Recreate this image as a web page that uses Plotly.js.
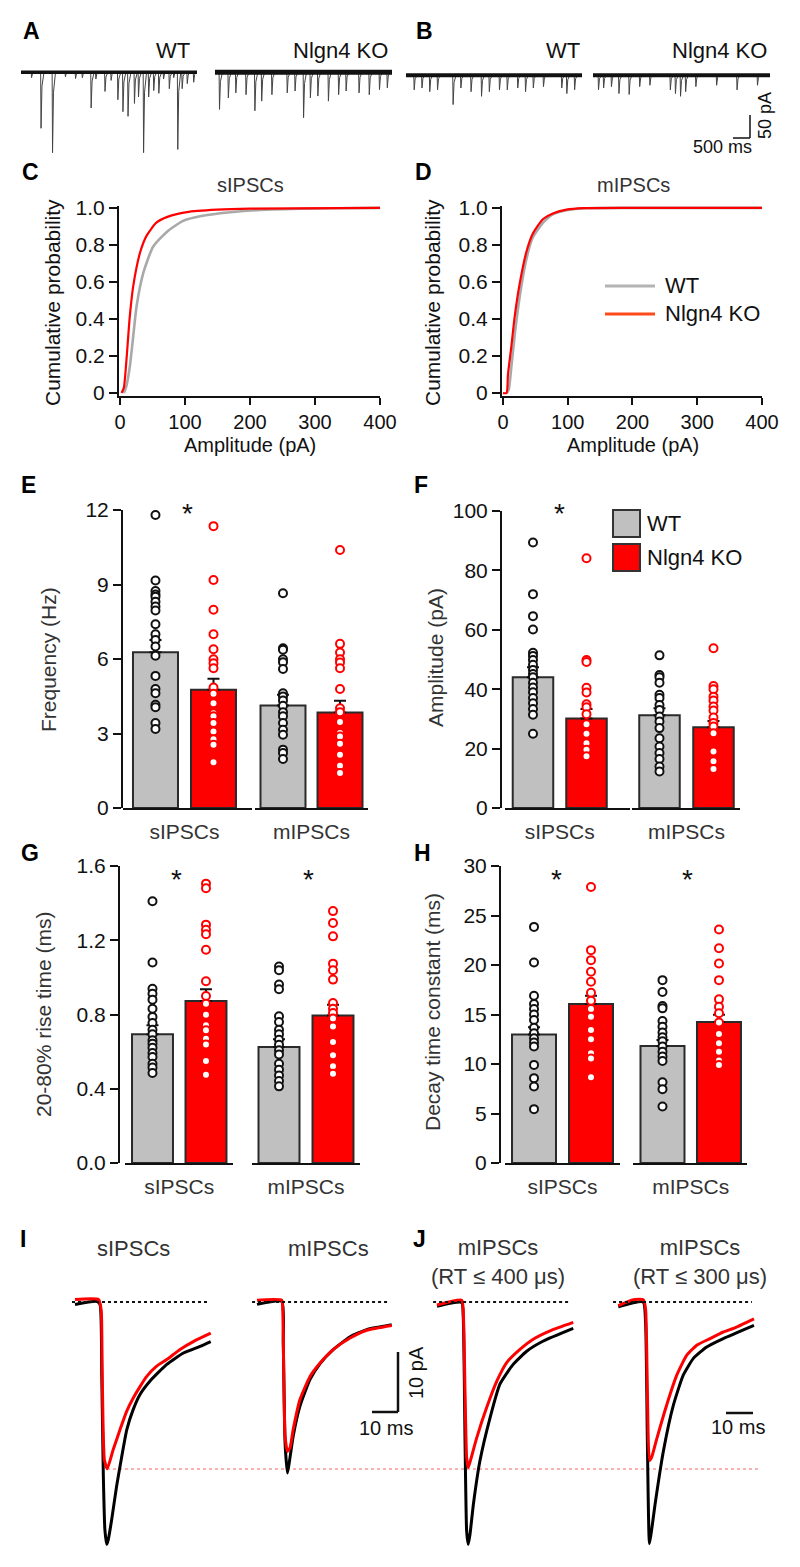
<!DOCTYPE html>
<html><head><meta charset="utf-8">
<script src="https://cdn.plot.ly/plotly-3.0.1.min.js"></script>
<style>html,body{margin:0;padding:0;background:#fff}#chart{width:800px;height:1567px}</style>
</head><body><div id="chart"></div><script>
// ---------- DATA ----------
// A/B example recordings: event times (s) and amplitudes (pA)
const traceDur = 5.2;
const aWT_t   = [0.30,0.58,0.92,1.30,1.60,1.80,2.06,2.20,2.47,2.65,2.85,3.00,3.15,3.34,3.46,3.61,3.76,3.91,4.06,4.20,4.37,4.50,4.62,4.75,4.90,5.09];
const aWT_amp = [12,122,175,10,14,12,78,15,42,18,60,86,96,68,54,175,54,40,46,15,36,12,168,36,25,22];
const aKO_t   = [0.12,0.38,0.60,0.90,1.16,1.36,1.66,2.11,2.34,2.59,2.79,3.01,3.32,3.62,3.84,4.22,4.52,4.82,5.05];
const aKO_amp = [81,56,45,49,84,63,49,45,41,99,56,52,63,49,41,45,49,38,34];
const bWT_t   = [0.23,0.46,0.69,0.92,1.38,1.61,1.91,2.22,2.45,2.75,2.98,3.29,3.52,3.75,4.05,4.59,4.74,4.97];
const bWT_amp = [32,28,36,32,64,28,36,46,36,32,32,28,36,28,25,28,40,32];
const bKO_t   = [0.15,0.30,0.53,0.75,1.05,1.36,1.66,2.26,2.41,2.56,2.71,3.01,3.62,4.22,4.82];
const bKO_amp = [32,28,25,40,42,25,22,32,40,46,36,25,22,32,22];

// C/D cumulative distributions (amplitude pA, cumulative probability)
const cWT_amp = [6,10,15,20.5,25.6,36,51,72,97,123,174,226,328,400];
const cWT_p   = [0,0.04,0.14,0.31,0.47,0.65,0.79,0.87,0.93,0.955,0.978,0.99,0.998,1.0];
const cKO_amp = [2.5,6,10,15,20.5,31,41,56,72,103,149,200,400];
const cKO_p   = [0,0.03,0.18,0.41,0.58,0.76,0.85,0.92,0.95,0.977,0.99,0.996,1.0];
const dWT_amp = [6,9,12.9,18,25.8,36,46,62,77,98,129,200,400];
const dWT_p   = [0,0.02,0.14,0.31,0.52,0.72,0.84,0.92,0.965,0.987,0.998,1.0,1.0];
const dKO_amp = [0,5.5,7.7,12.9,18,25.8,36,46,62,77,98,124,200,400];
const dKO_p   = [0,0,0.10,0.25,0.41,0.59,0.76,0.86,0.94,0.97,0.99,0.998,1.0,1.0];
const cdfTicksX = [0,100,200,300,400];
const cdfTicksY = [0,0.2,0.4,0.6,0.8,1.0];
const cdfTickText = ['0','0.2','0.4','0.6','0.8','1.0'];

const groups = ['sIPSCs','mIPSCs'];
const conds = ['WT','Nlgn4 KO'];

// E frequency (Hz)
const freqMean = {sWT:6.27, sKO:4.76, mWT:4.13, mKO:3.85};
const freqSem  = {sWT:0.50, sKO:0.44, mWT:0.43, mKO:0.47};
const freq_sWT = [11.8,9.16,8.74,8.6,8.51,8.31,8.11,7.95,7.4,7.0,6.77,6.5,6.13,5.32,4.79,4.62,4.16,4.06,3.42,3.18];
const freq_sKO = [11.35,9.18,7.98,7.0,6.39,5.99,5.83,5.63,4.85,4.6,4.22,3.82,3.69,3.42,3.08,2.77,2.55,1.84];
const freq_mWT = [8.65,6.43,6.37,5.99,5.87,5.6,4.62,4.49,4.33,4.12,3.86,3.69,3.42,3.15,2.95,2.35,2.21,1.97];
const freq_mKO = [10.39,6.61,6.26,5.99,5.86,5.63,4.79,4.02,3.86,3.46,3.02,2.88,2.59,2.14,1.7,1.41];
// F amplitude (pA)
const ampMean = {sWT:44.0, sKO:30.1, mWT:31.2, mKO:27.2};
const ampSem  = {sWT:3.4, sKO:3.2, mWT:2.4, mKO:2.1};
const amp_sWT = [89.4,72.0,64.6,60.1,52.3,51.2,49.8,48.2,46.5,45.1,44.0,42.2,40.6,39.0,37.0,35.3,33.3,31.4,25.0];
const amp_sKO = [84.1,49.8,49.2,40.5,38.9,34.9,33.9,31.6,28.2,25.0,21.8,19.6,17.4];
const amp_mWT = [51.4,44.8,44.0,42.2,38.1,37.0,34.7,33.0,30.8,29.1,26.9,23.5,20.7,18.5,16.5,14.0,12.3];
const amp_mKO = [53.8,41.1,40.0,37.5,36.2,34.2,32.8,30.5,28.6,27.4,25.2,19.0,15.7,13.1];
// G 20-80% rise time (ms)
const riseMean = {sWT:0.693, sKO:0.873, mWT:0.625, mKO:0.795};
const riseSem  = {sWT:0.049, sKO:0.063, mWT:0.041, mKO:0.058};
const rise_sWT = [1.41,1.08,0.939,0.912,0.88,0.831,0.787,0.754,0.718,0.693,0.661,0.643,0.621,0.593,0.571,0.535,0.514,0.485];
const rise_sKO = [1.505,1.48,1.284,1.257,1.232,1.149,0.979,0.9,0.858,0.799,0.742,0.715,0.67,0.639,0.549,0.476];
const rise_mWT = [1.059,1.038,0.961,0.936,0.79,0.76,0.718,0.693,0.664,0.637,0.607,0.585,0.535,0.503,0.472,0.442,0.413];
const rise_mKO = [1.357,1.293,1.221,1.074,1.038,0.988,0.862,0.831,0.808,0.778,0.736,0.652,0.58,0.521,0.481];
// H decay time constant (ms)
const decMean = {sWT:12.97, sKO:16.06, mWT:11.82, mKO:14.24};
const decSem  = {sWT:0.73, sKO:0.84, mWT:0.61, mKO:0.74};
const dec_sWT = [23.85,20.26,16.9,16.06,15.55,15.0,14.44,13.67,13.1,12.6,12.16,11.76,9.91,8.57,7.73,5.44];
const dec_sKO = [27.88,21.5,20.49,19.31,18.31,17.2,16.39,15.55,14.78,13.44,12.5,11.08,10.55,8.67];
const dec_mWT = [18.47,17.27,15.85,15.62,14.34,13.77,13.17,12.7,12.29,11.76,11.25,10.75,10.31,8.16,7.46,5.71];
const dec_mKO = [23.58,21.7,20.15,18.47,16.53,15.79,15.12,14.18,13.03,12.09,11.25,10.35,9.91];

// I/J averaged traces: time (ms), current (pA)
const iS_WT_t = [0,8.3,9.6,10.3,10.9,11.5,12.2,12.8,14.1,16.0,18.0,19.9,22.4,25.0,28.8,35.3,41.7,48.1,52.2];
const iS_WT_y = [-0.4,0.1,-0.4,-12.4,-29,-38,-40.4,-39.6,-36.3,-30.7,-25.7,-21.3,-17.9,-15.4,-13.2,-10.4,-8.5,-7.4,-6.6];
const iS_KO_t = [0,9.1,10.1,10.4,10.8,11.3,12.4,14.7,17.3,19.9,22.4,25.0,27.6,31.4,35.3,40.4,45.5,52.2];
const iS_KO_y = [0.4,0.4,-1.5,-9.6,-20.7,-26.3,-27.8,-24.6,-21.3,-18.2,-16.0,-14.1,-12.4,-10.7,-9.6,-7.9,-6.6,-5.2];
const iM_WT_t = [0,9.5,10.1,10.8,11.7,12.4,13.9,16.5,20.4,24.2,29.4,35.8,42.2,51.8];
const iM_WT_y = [-0.4,0.1,-6.8,-23.5,-28.5,-26.8,-22.4,-17.4,-12.9,-10.3,-7.9,-5.8,-4.6,-3.8];
const iM_KO_t = [0,9.5,9.9,10.3,10.8,11.7,12.7,13.9,16.5,20.4,24.2,29.4,35.8,42.2,51.8];
const iM_KO_y = [0.3,0.3,-1.3,-12.4,-22.4,-24.9,-24.3,-21.3,-16.3,-12.4,-10.2,-7.9,-6.0,-4.7,-3.9];
const j4_WT_t = [0,9.5,10.1,10.8,11.4,12.0,12.7,14.0,16.5,20.4,24.2,29.3,34.5,40.9,52.4];
const j4_WT_y = [-0.7,-0.1,-2.6,-23.7,-38.2,-40.4,-38.7,-33.7,-26.5,-19.3,-13.7,-10.4,-8.2,-6.5,-4.4];
const j4_KO_t = [0,9.5,10.1,10.8,11.4,12.0,13.0,15.3,19.1,23.0,26.8,31.9,37.0,43.5,52.4];
const j4_KO_y = [-0.5,0.3,-1.5,-15.4,-25.9,-27.6,-26.2,-22.6,-17.6,-13.2,-10.1,-7.9,-6.2,-4.8,-3.4];
const j3_WT_t = [0.1,9.7,10.6,11.3,12.1,13.0,14.2,17.4,21.3,25.1,29.0,34.1,40.5,52.3];
const j3_WT_y = [-0.8,0,-3.3,-23.3,-40.3,-37.8,-33.9,-25,-17.2,-12.2,-9.4,-7.5,-6.1,-3.9];
const j3_KO_t = [0.1,5.9,9.7,10.6,11.3,12.1,13.0,14.9,18.7,22.6,26.4,30.3,35.4,40.5,44.4,52.3];
const j3_KO_y = [-0.6,0.4,0.4,-1.1,-15,-26.4,-25.8,-22.8,-17.2,-12.2,-8.9,-7.2,-6.1,-5.0,-4.4,-2.8];

// ---------- STYLE / LAYOUT HELPERS ----------
const W=800, H=1567;
const px = x => x/W, py = y => 1 - y/H;
const FONT = 'Liberation Sans, Arial, Helvetica, sans-serif';
const INK = '#111', LBL = '#333';
const C_GRAYBAR = '#C0C0C0', C_RED = '#FF0000', C_GRAYLINE = '#A9A9A9';

const layout = {width:W, height:H, margin:{l:0,r:0,t:0,b:0}, paper_bgcolor:'#fff',
  plot_bgcolor:'rgba(0,0,0,0)', showlegend:false, font:{family:FONT,color:INK},
  annotations:[], shapes:[]};
function setAxes(n, xd, yd, xopt, yopt){
  const s = n===1 ? '' : String(n);
  layout['xaxis'+s] = Object.assign({domain:[px(xd[0]),px(xd[1])], anchor:'y'+s, showgrid:false, zeroline:false, fixedrange:true}, xopt);
  layout['yaxis'+s] = Object.assign({domain:[py(yd[1]),py(yd[0])], anchor:'x'+s, showgrid:false, zeroline:false, fixedrange:true}, yopt);
}
const hid = {visible:false};
const lineAx = {showline:true, linewidth:2, linecolor:INK, ticks:'outside', ticklen:8, tickwidth:2, tickcolor:INK,
  tickfont:{size:21, color:INK, family:FONT}};
function catAx(label, range){
  return {showline:true, linewidth:2, linecolor:INK, ticks:'outside', ticklen:4, tickcolor:'rgba(0,0,0,0)',
    tickvals:[0.5], ticktext:[label], range:range, tickfont:{size:21,color:LBL,family:FONT}};
}
function txt(text, x, y, o){
  return Object.assign({text:text, x:px(x), y:py(y), xref:'paper', yref:'paper', showarrow:false,
    xanchor:'center', yanchor:'middle', font:{size:21, color:INK, family:FONT}}, o||{});
}
function seg(x0,y0,x1,y1,color,width,dash){
  return {type:'line', xref:'paper', yref:'paper', x0:px(x0), y0:py(y0), x1:px(x1), y1:py(y1),
    line:{color:color, width:width, dash:dash||'solid'}};
}

const data = [];

// ---------- A/B ----------
function eventTrace(ts, amps){
  const x=[0], y=[0];
  ts.forEach((t,i)=>{ const a=amps[i]; x.push(t, t+0.012, t+0.04, t+0.1); y.push(0, -a, -a*0.25, 0); });
  x.push(traceDur); y.push(0);
  return {x, y};
}
const abSets = [
  {n:1, t:aWT_t, a:aWT_amp, xd:[21,197], yd:[62,172], bw:3.5},
  {n:2, t:aKO_t, a:aKO_amp, xd:[215,392], yd:[62,172], bw:5},
  {n:3, t:bWT_t, a:bWT_amp, xd:[406,582], yd:[65,175], bw:4},
  {n:4, t:bKO_t, a:bKO_amp, xd:[593,770], yd:[65,175], bw:4}
];
abSets.forEach(s=>{
  const id = s.n===1?'':String(s.n);
  setAxes(s.n, s.xd, s.yd, Object.assign({range:[0,traceDur]},hid), Object.assign({range:[-217,22]},hid));
  const ev = eventTrace(s.t, s.a);
  data.push({type:'scatter', mode:'lines', x:ev.x, y:ev.y, line:{color:'#444', width:1}, xaxis:'x'+id, yaxis:'y'+id, hoverinfo:'skip'});
  data.push({type:'scatter', mode:'lines', x:[0,traceDur], y:[0,0], line:{color:'#111', width:s.bw}, xaxis:'x'+id, yaxis:'y'+id, hoverinfo:'skip'});
});
layout.annotations.push(
  txt('WT',192,50,{xanchor:'right',font:{size:22,color:INK,family:FONT}}),
  txt('Nlgn4 KO',390,50,{xanchor:'right',font:{size:22,color:INK,family:FONT}}),
  txt('WT',582,50,{xanchor:'right',font:{size:22,color:INK,family:FONT}}),
  txt('Nlgn4 KO',769,50,{xanchor:'right',font:{size:22,color:INK,family:FONT}}),
  txt('500 ms',722,147,{font:{size:18,color:INK,family:FONT}}),
  txt('50 pA',765,116,{textangle:-90,font:{size:18,color:INK,family:FONT}})
);
layout.shapes.push(seg(750,115,750,138,INK,1.5), seg(733,138,750,138,INK,1.5));

// ---------- C/D ----------
[[5,[119,380],cWT_amp,cWT_p,cKO_amp,cKO_p,'sIPSCs',250,52],[6,[502,762],dWT_amp,dWT_p,dKO_amp,dKO_p,'mIPSCs',633,432]].forEach(c=>{
  const [n,xd,wx,wy,kx,ky,title,cx,ytx] = c;
  setAxes(n, xd, [206,396],
    Object.assign({}, lineAx, {range:[-1.5,400], tickvals:cdfTicksX, ticklen:7, tickfont:{size:20,color:INK,family:FONT}}),
    Object.assign({}, lineAx, {range:[-0.016,1.01], tickvals:cdfTicksY, ticktext:cdfTickText}));
  data.push({type:'scatter', mode:'lines', x:wx, y:wy, line:{color:C_GRAYLINE, width:2.6, shape:'spline', smoothing:0.6}, xaxis:'x'+n, yaxis:'y'+n});
  data.push({type:'scatter', mode:'lines', x:kx, y:ky, line:{color:C_RED, width:2.2, shape:'spline', smoothing:0.6}, xaxis:'x'+n, yaxis:'y'+n});
  layout.annotations.push(
    txt(title, cx, 185, {font:{size:20,color:LBL,family:FONT}}),
    txt('Amplitude (pA)', cx, 445, {font:{size:20,color:INK,family:FONT}}),
    txt('Cumulative probability', ytx, 303, {textangle:-90})
  );
});
// legend in D
layout.shapes.push(seg(605,286,655,286,'#B4B4B4',3), seg(605,314,655,314,'#FF4A1C',3));
layout.annotations.push(txt('WT',663,286,{xanchor:'left',font:{size:22,color:INK,family:FONT}}),
  txt('Nlgn4 KO',663,314,{xanchor:'left',font:{size:22,color:INK,family:FONT}}));

// ---------- E-H bar panels ----------
function barPanel(nL, nR, yd, yrange, yticks, tickfmt, mean, sem, pts, geomL, geomR, yPos){
  // geom: [domainX0, domainX1, range0, range1, barWidth]
  [[nL,geomL,'s',groups[0]],[nR,geomR,'m',groups[1]]].forEach((g,i)=>{
    const [n,geo,k,label] = g;
    const yopt = i===0
      ? Object.assign({}, lineAx, {range:yrange, tickvals:yticks, tickformat:tickfmt, anchor:'free', position:px(yPos)})
      : Object.assign({range:yrange}, hid);
    setAxes(n, [geo[0],geo[1]], yd, catAx(label,[geo[2],geo[3]]), yopt);
    data.push({type:'bar', x:[0,1], y:[mean[k+'WT'], mean[k+'KO']], width:[geo[4],geo[4]],
      marker:{color:[C_GRAYBAR,C_RED], line:{color:'#2a2a2a', width:2}},
      error_y:{type:'data', symmetric:false, array:[sem[k+'WT'], sem[k+'KO']], arrayminus:[0,0], color:INK, thickness:2, width:6},
      xaxis:'x'+n, yaxis:'y'+n});
    const w = pts[k+'WT'], r = pts[k+'KO'];
    data.push({type:'scatter', mode:'markers', x:w.map(()=>0), y:w, cliponaxis:false,
      marker:{symbol:'circle', size:8, color:'#fff', line:{color:INK, width:2}}, xaxis:'x'+n, yaxis:'y'+n});
    data.push({type:'scatter', mode:'markers', x:r.map(()=>1), y:r, cliponaxis:false,
      marker:{symbol:'circle', size:8, color:'#fff', line:{color:C_RED, width:2}}, xaxis:'x'+n, yaxis:'y'+n});
  });
}
barPanel(7, 8, [510,808], [0,12], [0,3,6,9,12], '', freqMean, freqSem,
  {sWT:freq_sWT, sKO:freq_sKO, mWT:freq_mWT, mKO:freq_mKO},
  [123,252,-0.560,1.664,0.776], [255,368,-0.491,1.491,0.789], 122);
barPanel(9, 10, [511,808], [0,100], [0,20,40,60,80,100], '', ampMean, ampSem,
  {sWT:amp_sWT, sKO:amp_sKO, mWT:amp_mWT, mKO:amp_mKO},
  [505,630,-0.523,1.813,0.757], [632,740,-0.509,1.491,0.75], 501);
barPanel(11, 12, [866,1163], [0,1.6], [0,0.4,0.8,1.2,1.6], '.1f', riseMean, riseSem,
  {sWT:rise_sWT, sKO:rise_sKO, mWT:rise_mWT, mKO:rise_mKO},
  [125,233,-0.514,1.505,0.766], [252,360,-0.5,1.5,0.759], 119);
barPanel(13, 14, [866,1163], [0,30], [0,5,10,15,20,25,30], '', decMean, decSem,
  {sWT:dec_sWT, sKO:dec_sKO, mWT:dec_mWT, mKO:dec_mKO},
  [505,620,-0.509,1.509,0.772], [633,747,-0.522,1.496,0.779], 500);

layout.annotations.push(
  txt('Frequency (Hz)',48,660,{textangle:-90,font:{size:21,color:LBL,family:FONT}}),
  txt('Amplitude (pA)',435,657,{textangle:-90,font:{size:21,color:LBL,family:FONT}}),
  txt('20-80% rise time (ms)',43,1015,{textangle:-90,font:{size:21,color:LBL,family:FONT}}),
  txt('Decay time constant (ms)',432,1012,{textangle:-90,font:{size:21,color:LBL,family:FONT}})
);
// significance stars
[[187,508],[559,508],[176,874],[308,874],[556,874],[687,874]].forEach(p=>{
  layout.annotations.push(txt('*',p[0],p[1]+5,{font:{size:28,color:INK,family:FONT}}));
});
// legend in F
layout.shapes.push(
  {type:'rect',xref:'paper',yref:'paper',x0:px(613),x1:px(640),y0:py(537),y1:py(510),fillcolor:C_GRAYBAR,line:{color:'#333',width:2}},
  {type:'rect',xref:'paper',yref:'paper',x0:px(613),x1:px(640),y0:py(571),y1:py(544),fillcolor:C_RED,line:{color:'#333',width:2}}
);
layout.annotations.push(txt('WT',645,523,{xanchor:'left',font:{size:22,color:INK,family:FONT}}),
  txt('Nlgn4 KO',645,557,{xanchor:'left',font:{size:22,color:INK,family:FONT}}));

// ---------- I/J ----------
const ijSets = [
  {n:15, x0:75,  wt:[iS_WT_t,iS_WT_y], ko:[iS_KO_t,iS_KO_y], bl:[-1.15,51.2]},
  {n:16, x0:257, wt:[iM_WT_t,iM_WT_y], ko:[iM_KO_t,iM_KO_y], bl:[-1.9,51.2]},
  {n:17, x0:437, wt:[j4_WT_t,j4_WT_y], ko:[j4_KO_t,j4_KO_y], bl:[-1.5,51.5]},
  {n:18, x0:618, wt:[j3_WT_t,j3_WT_y], ko:[j3_KO_t,j3_KO_y], bl:[-1.9,51.5]}
];
ijSets.forEach(s=>{
  setAxes(s.n, [s.x0-6, s.x0+140], [1290,1555], Object.assign({range:[-6/2.6,140/2.6]},hid), Object.assign({range:[-42.17,2]},hid));
  layout.shapes.push({type:'line', xref:'x'+s.n, yref:'y'+s.n, x0:s.bl[0], x1:s.bl[1], y0:0, y1:0, line:{color:INK,width:2,dash:'dot'}});
  data.push({type:'scatter', mode:'lines', x:s.wt[0], y:s.wt[1], line:{color:'#000', width:3, shape:'spline', smoothing:0.5}, xaxis:'x'+s.n, yaxis:'y'+s.n});
  data.push({type:'scatter', mode:'lines', x:s.ko[0], y:s.ko[1], line:{color:C_RED, width:3, shape:'spline', smoothing:0.5}, xaxis:'x'+s.n, yaxis:'y'+s.n});
});
layout.shapes.push(Object.assign(seg(107,1469,758,1469,'#FFB0B0',2,'dot'),{layer:'below'}));
// scale bars
layout.shapes.push(seg(398,1352,398,1412,INK,2.5), seg(372,1412,398,1412,INK,2.5), seg(726,1413,753,1413,INK,2.5));
layout.annotations.push(
  txt('10 pA',416,1373,{textangle:-90,font:{size:20,color:INK,family:FONT}}),
  txt('10 ms',386,1428,{font:{size:20,color:INK,family:FONT}}),
  txt('10 ms',738,1427,{font:{size:20,color:INK,family:FONT}}),
  txt('sIPSCs',133,1248,{font:{size:22,color:LBL,family:FONT}}),
  txt('mIPSCs',328,1248,{font:{size:22,color:LBL,family:FONT}}),
  txt('mIPSCs<br>(RT ≤ 400 μs)',498,1262,{font:{size:22,color:LBL,family:FONT}}),
  txt('mIPSCs<br>(RT ≤ 300 μs)',700,1262,{font:{size:22,color:LBL,family:FONT}})
);

// ---------- panel letters ----------
[['A',31,31],['B',424,31],['C',30,172],['D',423,172],['E',29,485],['F',421,485],['G',30,853],['H',422,853],['I',23,1239],['J',419,1239]].forEach(l=>{
  layout.annotations.push(txt('<b>'+l[0]+'</b>', l[1], l[2], {font:{size:23,color:'#000',family:FONT}}));
});

Plotly.newPlot('chart', data, layout, {staticPlot:true, displayModeBar:false});
</script></body></html>
